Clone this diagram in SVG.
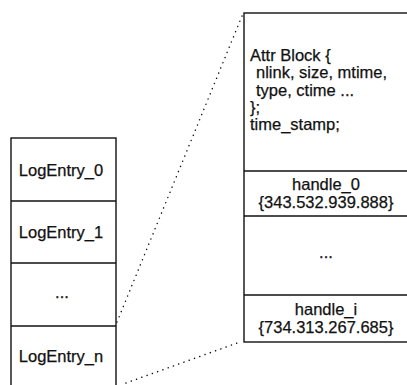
<svg xmlns="http://www.w3.org/2000/svg" width="407" height="385" viewBox="0 0 407 385">
  <style>
    .box { fill: #ffffff; stroke: #111111; stroke-width: 1.4; }
    .sep { stroke: #111111; stroke-width: 1.4; }
    .lbl { font-family: "Liberation Sans", Arial, sans-serif; font-size: 16.5px; fill: #111111; stroke: #111111; stroke-width: 0.25; }
    .mid { text-anchor: middle; }
    .dots { fill: none; stroke: #111111; stroke-width: 1.5; stroke-dasharray: 0.1 5.5; stroke-linecap: round; }
  </style>
  <rect width="407" height="385" fill="#ffffff"/>

  <!-- zoom connectors from LogEntry_n to the entry detail -->
  <g id="connectors">
    <line class="dots" x1="117" y1="322" x2="242" y2="16"/>
    <line class="dots" x1="126" y1="383" x2="240" y2="342"/>
  </g>

  <!-- log column -->
  <g id="log">
    <rect class="box" x="11" y="138" width="105" height="252"/>
    <g id="logentry0">
      <text class="lbl mid" x="61" y="176">LogEntry_0</text>
    </g>
    <g id="logentry1">
      <line class="sep" x1="11" y1="201" x2="116" y2="201"/>
      <text class="lbl mid" x="61" y="238">LogEntry_1</text>
    </g>
    <g id="logellipsis">
      <line class="sep" x1="11" y1="263" x2="116" y2="263"/>
      <text class="lbl mid" x="62" y="298">...</text>
    </g>
    <g id="logentryn">
      <line class="sep" x1="11" y1="326" x2="116" y2="326"/>
      <text class="lbl mid" x="61" y="362">LogEntry_n</text>
    </g>
  </g>

  <!-- expanded log entry -->
  <g id="entry">
    <rect class="box" x="244" y="13" width="170" height="329"/>
    <g id="attrblock">
      <text class="lbl" x="250" y="61">Attr Block {</text>
      <text class="lbl" x="256" y="78">nlink, size, mtime,</text>
      <text class="lbl" x="256" y="96">type, ctime ...</text>
      <text class="lbl" x="250" y="113">};</text>
      <text class="lbl" x="250" y="130">time_stamp;</text>
    </g>
    <g id="handle0">
      <line class="sep" x1="244" y1="171" x2="414" y2="171"/>
      <text class="lbl mid" x="326" y="190">handle_0</text>
      <text class="lbl mid" x="326" y="208">{343.532.939.888}</text>
    </g>
    <g id="handleellipsis">
      <line class="sep" x1="244" y1="216" x2="414" y2="216"/>
      <text class="lbl mid" x="326" y="258">...</text>
    </g>
    <g id="handlei">
      <line class="sep" x1="244" y1="295" x2="414" y2="295"/>
      <text class="lbl mid" x="326" y="315">handle_i</text>
      <text class="lbl mid" x="326" y="333">{734.313.267.685}</text>
    </g>
  </g>
</svg>
